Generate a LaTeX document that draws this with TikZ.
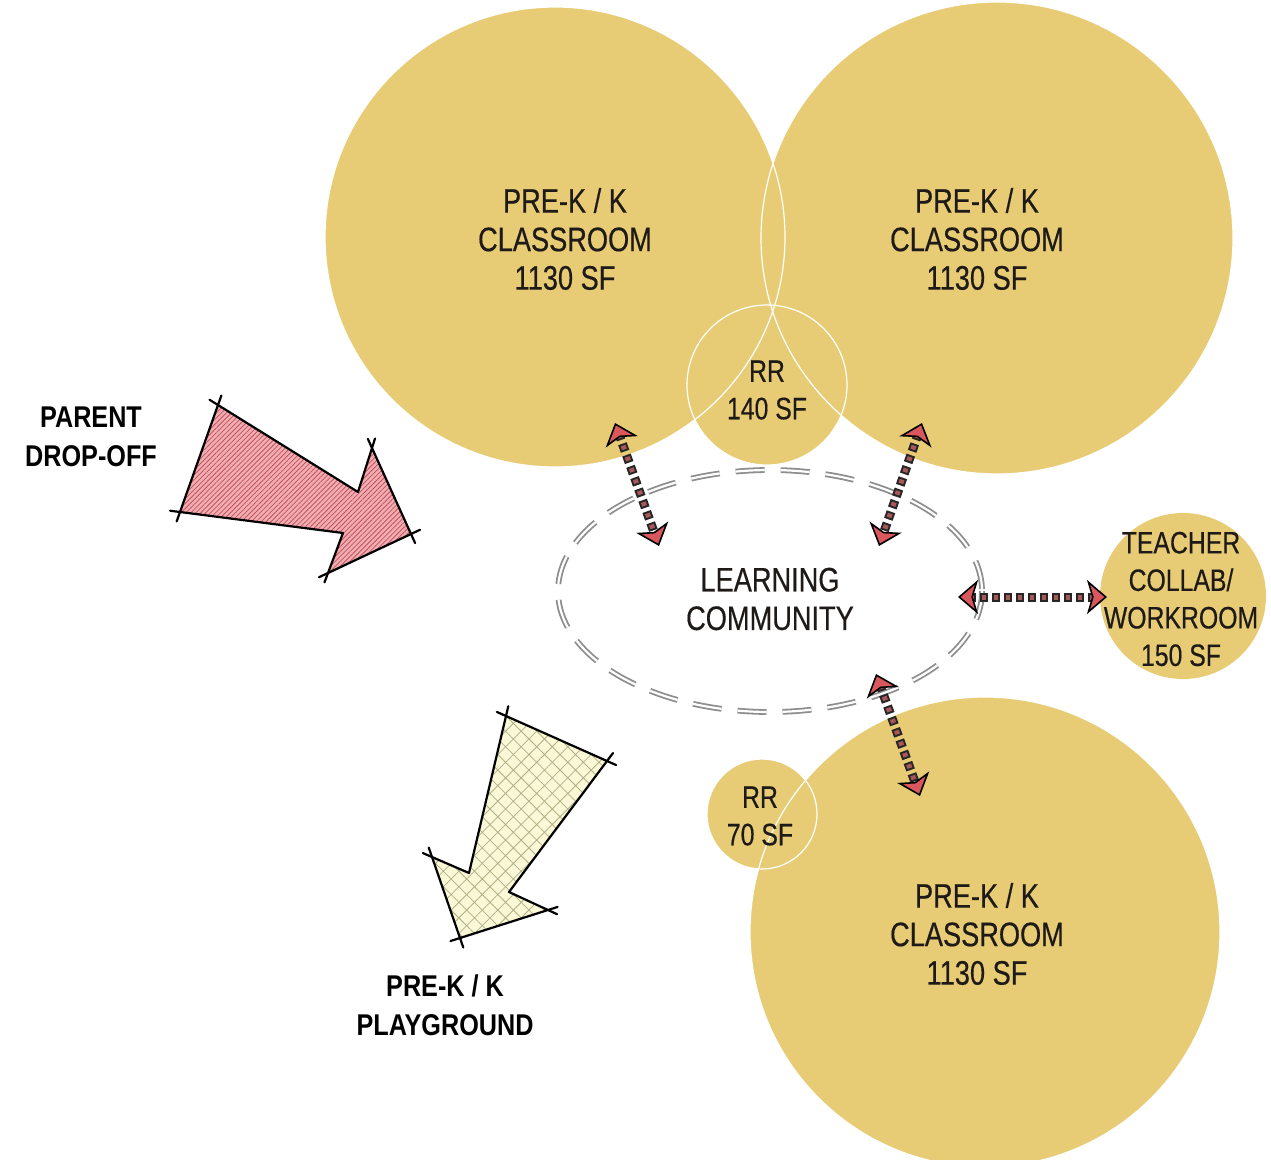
\documentclass[tikz,border=0pt]{standalone}
\usepackage{fontspec}
\setmainfont{Liberation Sans}
\newfontfamily\nf[FakeStretch=0.8,FakeBold=0.4]{Liberation Sans}
\newfontfamily\nfb[FakeStretch=0.84]{Liberation Sans}
\usetikzlibrary{arrows.meta,patterns.meta,calc}
\definecolor{room}{HTML}{E8CC75}
\definecolor{txt}{HTML}{1E1A18}
\definecolor{headred}{HTML}{D9585E}
\definecolor{sqred}{HTML}{A9585A}
\definecolor{pinkfill}{HTML}{F0AEB3}
\definecolor{pinkline}{HTML}{C4505C}
\definecolor{paleyel}{HTML}{FAF8D6}
\definecolor{hatchcol}{HTML}{B0B088}
\definecolor{dashgray}{HTML}{8E8E8E}
\tikzset{
  roomfill/.style={fill=room},
  roomedge/.style={draw=white, line width=1.2pt},
  txtlabel/.style={font=\nf\fontsize{34}{38.5}\selectfont, text=txt, align=center, inner sep=0pt},
  smalllabel/.style={txtlabel, font=\nf\fontsize{31}{37.5}\selectfont},
  boldlabel/.style={font=\nfb\bfseries\fontsize{30}{39}\selectfont, text=black, align=center, inner sep=0pt},
  shaftout/.style={draw=black!85, line width=9pt, dash pattern=on 8pt off 4pt, shorten <=10pt, shorten >=10pt},
  shaftin/.style={draw=sqred, line width=5pt, dash pattern=on 4pt off 8pt, dash phase=10pt, shorten <=10pt, shorten >=10pt},
  headtip/.style={line width=0.4pt, -{Stealth[length=20pt,width=34pt,inset=5pt,line width=1.6pt,fill=headred,color=black]}},
  outline/.style={draw=black, line width=2.2pt, line join=round, line cap=round},
  community/.style={draw=dashgray, double=white, double distance=2.2pt, line width=1.8pt, dash pattern=on 29pt off 16pt},
}
\newcommand\dblarrow[2]{%
  \draw[shaftout] (#1) -- (#2);
  \draw[shaftin] (#1) -- (#2);
  \draw[headtip] ($(#1)!1pt!(#2)$) -- (#1);
  \draw[headtip] ($(#2)!1pt!(#1)$) -- (#2);}
\newcommand\cornertick[3]{%
  \draw[outline] (#1) -- ($(#1)!-10pt!(#2)$);
  \draw[outline] (#1) -- ($(#1)!-10pt!(#3)$);}
\begin{document}
\begin{tikzpicture}[x=1pt,y=-1pt]
\useasboundingbox (0,0) rectangle (1271,1159);
\fill[white] (0,0) rectangle (1271,1159);
% room centres
\coordinate (tl) at (555,237);
\coordinate (tr) at (997,238);
\coordinate (rr1) at (767,385);
\coordinate (tw) at (1183,596);
\coordinate (bc) at (985,932);
\coordinate (rr2) at (762,814);
\coordinate (lc) at (770,591);
% fills
\fill[roomfill] (tl) circle (230);
\fill[roomfill] (tr) circle (236);
\fill[roomfill] (rr1) circle (80);
\fill[roomfill] (tw) circle (83);
\fill[roomfill] (bc) circle (235);
\fill[roomfill] (rr2) circle (55);
% white edges
\draw[roomedge] (tl) circle (230);
\draw[roomedge] (tr) circle (236);
\draw[roomedge] (rr1) circle (80);
\draw[roomedge] (bc) circle (235);
\draw[roomedge] (rr2) circle (55);
% learning community
\draw[community] (lc) ellipse (212 and 121);
% labels
\node[txtlabel] (tltext) at (565,239) {PRE-K / K\\CLASSROOM\\1130 SF};
\node[txtlabel] (trtext) at (977,239) {PRE-K / K\\CLASSROOM\\1130 SF};
\node[txtlabel] (bctext) at (977,934) {PRE-K / K\\CLASSROOM\\1130 SF};
\node[smalllabel] (rr1text) at (767,390) {RR\\140 SF};
\node[smalllabel] (rr2text) at (760,816) {RR\\70 SF};
\node[txtlabel] (lctext) at (770,599) {LEARNING\\COMMUNITY};
\node[smalllabel] (twtext) at (1181,599) {TEACHER\\COLLAB/\\WORKROOM\\150 SF};
\node[boldlabel] (pdtext) at (91,437) {PARENT\\DROP-OFF};
\node[boldlabel] (pgtext) at (445,1005) {PRE-K / K\\PLAYGROUND};
% parent drop-off arrow
\coordinate (p1) at (218,405);
\coordinate (p2) at (358,492);
\coordinate (p3) at (372,448);
\coordinate (p4) at (411,534);
\coordinate (p5) at (328,573);
\coordinate (p6) at (343,533);
\coordinate (p7) at (180,512);
\path[fill=pinkfill] (p1) -- (p2) -- (p3) -- (p4) -- (p5) -- (p6) -- (p7) -- cycle;
\path[pattern={Lines[angle=45,distance=3.5pt,line width=0.8pt]}, pattern color=pinkline] (p1) -- (p2) -- (p3) -- (p4) -- (p5) -- (p6) -- (p7) -- cycle;
\draw[outline] (p1) -- (p2) -- (p3) -- (p4) -- (p5) -- (p6) -- (p7) -- cycle;
\cornertick{p1}{p2}{p7}
\cornertick{p3}{p2}{p4}
\cornertick{p4}{p3}{p5}
\cornertick{p5}{p4}{p6}
\cornertick{p7}{p6}{p1}
% playground arrow
\coordinate (g1) at (506,716);
\coordinate (g2) at (607,761);
\coordinate (g3) at (509,892);
\coordinate (g4) at (548,910);
\coordinate (g5) at (460,938);
\coordinate (g6) at (432,857);
\coordinate (g7) at (469,873);
\path[fill=paleyel] (g1) -- (g2) -- (g3) -- (g4) -- (g5) -- (g6) -- (g7) -- cycle;
\path[pattern={Hatch[angle=45,distance=11pt,line width=0.8pt]}, pattern color=hatchcol] (g1) -- (g2) -- (g3) -- (g4) -- (g5) -- (g6) -- (g7) -- cycle;
\draw[outline] (g1) -- (g2) -- (g3) -- (g4) -- (g5) -- (g6) -- (g7) -- cycle;
\cornertick{g1}{g2}{g7}
\cornertick{g2}{g1}{g3}
\cornertick{g4}{g3}{g5}
\cornertick{g5}{g4}{g6}
\cornertick{g6}{g5}{g7}
% double arrows
\coordinate (a1s) at (615,423);
\coordinate (a1e) at (659,546);
\coordinate (a2s) at (922,423);
\coordinate (a2e) at (879,546);
\coordinate (a3s) at (958,597);
\coordinate (a3e) at (1107,597);
\coordinate (a4s) at (876,674);
\coordinate (a4e) at (920,796);
\dblarrow{a1s}{a1e}
\dblarrow{a2s}{a2e}
\dblarrow{a3s}{a3e}
\dblarrow{a4s}{a4e}
\end{tikzpicture}
\end{document}
